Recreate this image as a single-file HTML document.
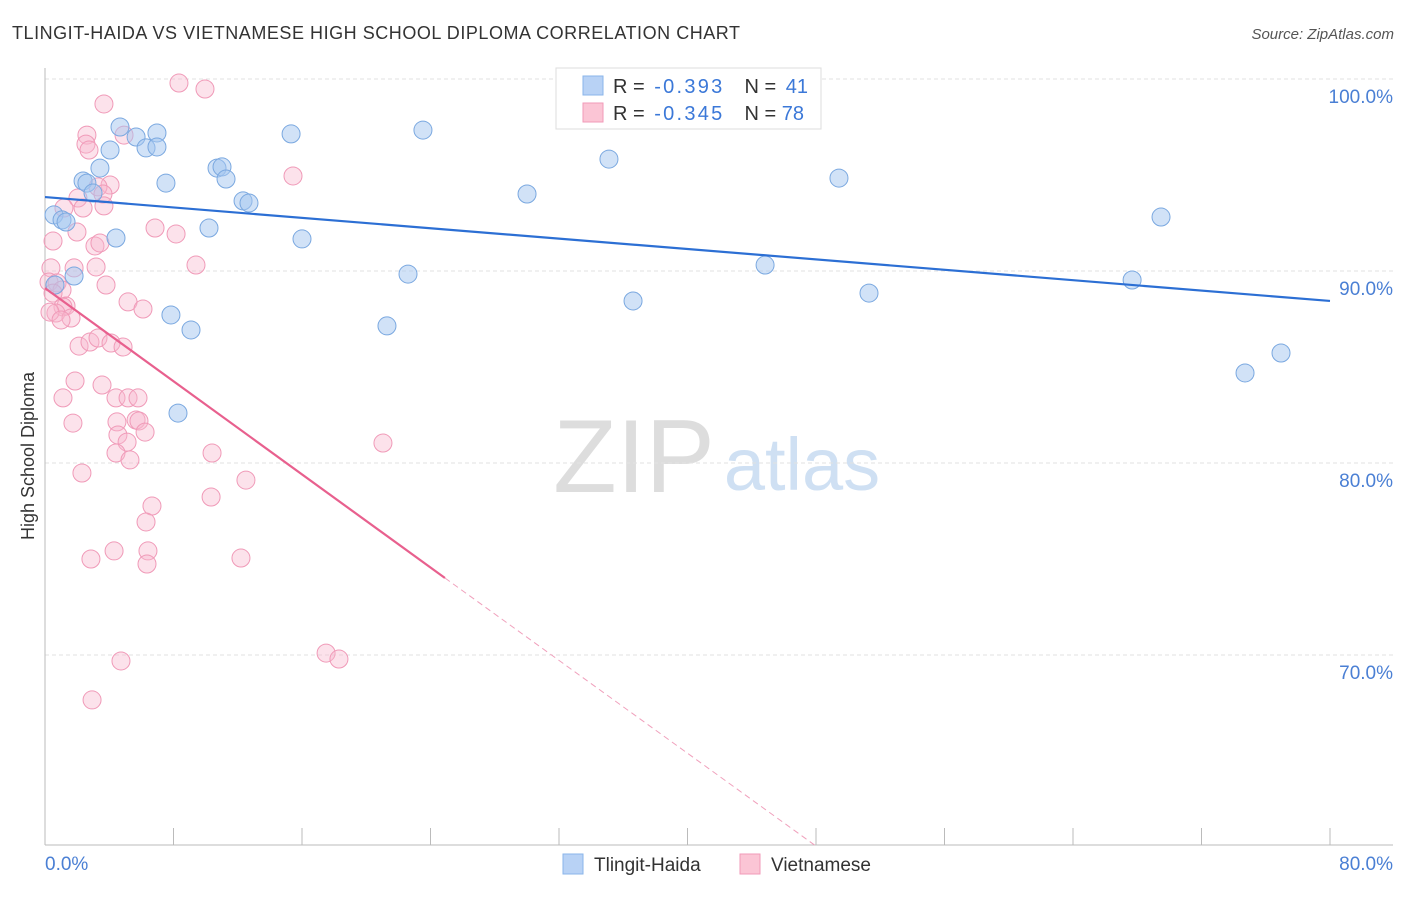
<!DOCTYPE html>
<html><head><meta charset="utf-8"><style>
body{margin:0;background:#fff;font-family:"Liberation Sans",sans-serif;}
svg text{font-family:"Liberation Sans",sans-serif;}
</style></head><body>
<svg id="chart" width="1406" height="892" xmlns="http://www.w3.org/2000/svg">
<text x="12" y="39" font-size="18" fill="#333" textLength="728">TLINGIT-HAIDA VS VIETNAMESE HIGH SCHOOL DIPLOMA CORRELATION CHART</text>
<text x="1394" y="39" font-size="15" fill="#555" text-anchor="end" font-style="italic">Source: ZipAtlas.com</text>
<text x="34" y="456" font-size="18" fill="#333" text-anchor="middle" transform="rotate(-90 34 456)">High School Diploma</text>
<g><text x="634" y="492" font-size="104" fill="#ddd" text-anchor="middle" font-family="Liberation Serif">ZIP</text><text x="802" y="490" font-size="74" fill="#cfe0f3" text-anchor="middle">atlas</text></g>
<g id="grid"></g><g id="axes"></g><g id="marks"></g>
<g>
<rect x="556" y="68" width="265" height="61" fill="#fff" stroke="#ddd"/>
<rect x="583" y="76" width="20" height="19" fill="#b8d2f5" stroke="#8ab4ea"/>
<rect x="583" y="103" width="20" height="19" fill="#fbc5d5" stroke="#f29ab8"/>
<text x="613" y="93" font-size="20" fill="#333">R = <tspan dx="4" fill="#3b78d8" textLength="68">-0.393</tspan><tspan dx="20">N = </tspan><tspan dx="4" fill="#3b78d8">41</tspan></text>
<text x="613" y="120" font-size="20" fill="#333">R = <tspan dx="4" fill="#3b78d8" textLength="68">-0.345</tspan><tspan dx="20">N = </tspan><tspan fill="#3b78d8">78</tspan></text>
</g>
<g>
<rect x="563" y="854" width="20" height="20" fill="#b8d2f5" stroke="#8ab4ea"/>
<text x="594" y="871" font-size="19" fill="#333">Tlingit-Haida</text>
<rect x="740" y="854" width="20" height="20" fill="#fbc5d5" stroke="#f29ab8"/>
<text x="771" y="871" font-size="19" fill="#333">Vietnamese</text>
</g>
</svg>
<script>
const blueX=[4.67,4.05,5.67,6.29,6.97,6.97,3.42,2.37,2.61,2.99,7.53,0.56,1.06,1.31,4.42,1.81,0.62,10.71,11.02,11.27,12.33,12.70,10.21,15.32,16.0,7.84,9.09,8.28,21.29,22.6,23.53,30.01,35.11,36.61,44.83,49.43,51.30,69.48,67.68,74.71,76.95];
const blueY=[97.5,96.3,96.98,96.41,97.19,96.46,95.36,94.69,94.58,94.06,94.58,92.92,92.66,92.55,91.72,89.74,89.27,95.36,95.42,94.79,93.65,93.54,92.24,97.14,91.67,87.71,86.93,82.6,87.14,89.84,97.34,94.01,95.83,88.44,90.31,94.84,88.85,92.81,89.53,84.69,85.73];
const pinkX=[8.34,9.96,3.67,2.61,2.55,2.74,4.92,4.05,3.30,3.61,2.05,3.67,2.37,1.18,6.85,8.16,1.99,0.50,3.11,3.42,9.40,3.18,1.81,0.37,3.80,15.44,0.25,0.75,1.06,0.50,1.31,1.12,0.68,0.31,1.62,1.00,5.17,6.10,2.12,2.80,3.30,4.11,4.86,1.87,3.55,1.12,4.42,5.17,5.79,1.74,4.48,5.67,5.85,6.23,4.54,5.11,4.42,5.29,10.40,21.04,2.30,12.51,10.34,6.66,6.29,2.86,4.30,6.41,6.35,12.20,4.73,17.50,18.30,2.93];
const pinkY=[99.79,99.48,98.7,97.08,96.61,96.3,97.08,94.48,94.38,94.01,93.8,93.39,93.28,93.28,92.24,91.93,92.03,91.56,91.3,91.46,90.31,90.21,90.16,90.16,89.27,94.95,89.43,89.38,89.01,88.85,88.18,88.13,87.81,87.86,87.55,87.45,88.39,88.02,86.09,86.3,86.51,86.25,86.04,84.27,84.06,83.39,83.39,83.39,83.39,82.08,82.14,82.24,82.19,81.61,81.46,81.09,80.52,80.16,80.52,81.04,79.48,79.11,78.23,77.76,76.93,75.0,75.42,75.42,74.74,75.05,69.69,70.1,69.79,67.66];
const yTicks=[100,90,80,70];
const yTickLabels=["100.0%","90.0%","80.0%","70.0%"];
const xTicks=[0,8,16,24,32,40,48,56,64,72,80];
const blueLine=[[0,93.85],[80,88.44]];
const pinkSolid=[[0,89.11],[24.9,74.01]];
const pinkDash=[[24.9,74.01],[48.08,60.0]];

const NS="http://www.w3.org/2000/svg";
const sx=v=>45+v*1285/80;
const sy=v=>271-(v-90)*19.2;
function mk(tag,attrs,parent){const e=document.createElementNS(NS,tag);for(const k in attrs)e.setAttribute(k,attrs[k]);document.getElementById(parent).appendChild(e);return e;}
yTicks.forEach((t,i)=>{
  const g=mk('line',{x1:45,x2:1393,y1:sy(t),y2:sy(t),stroke:'#e2e2e2','stroke-dasharray':'4,3'},'grid');
  
  
  const l=mk('text',{x:1393,y:sy(t)+24,'font-size':19,fill:'#4a7fd4','text-anchor':'end'},'axes');
  l.textContent=yTickLabels[i];
  
  
});
const ya=mk('line',{x1:45,x2:45,y1:68,y2:845,stroke:'#bbb'},'axes');


const xa=mk('line',{x1:45,x2:1393,y1:845,y2:845,stroke:'#bbb'},'axes');


xTicks.forEach(t=>{
  const e=mk('line',{x1:sx(t),x2:sx(t),y1:828,y2:845,stroke:'#bbb'},'axes');
  
  
});
const xl0=mk('text',{x:45,y:870,'font-size':19,fill:'#4a7fd4'},'axes');xl0.textContent='0.0%';


const xl1=mk('text',{x:1393,y:870,'font-size':19,fill:'#4a7fd4','text-anchor':'end'},'axes');xl1.textContent='80.0%';


pinkX.forEach((x,i)=>{
  const c=mk('circle',{cx:sx(x),cy:sy(pinkY[i]),r:9,fill:'rgba(248,182,204,0.4)',stroke:'#f09ab8','stroke-width':1},'marks');
  
  
});
blueX.forEach((x,i)=>{
  const c=mk('circle',{cx:sx(x),cy:sy(blueY[i]),r:9,fill:'rgba(164,198,240,0.5)',stroke:'#7aa8e0','stroke-width':1},'marks');
  
  
});
const bl=mk('line',{x1:sx(blueLine[0][0]),y1:sy(blueLine[0][1]),x2:sx(blueLine[1][0]),y2:sy(blueLine[1][1]),stroke:'#2c6fd4','stroke-width':2.2},'marks');


const pl=mk('line',{x1:sx(pinkSolid[0][0]),y1:sy(pinkSolid[0][1]),x2:sx(pinkSolid[1][0]),y2:sy(pinkSolid[1][1]),stroke:'#e8608e','stroke-width':2.2},'marks');


const pd=mk('line',{x1:sx(pinkDash[0][0]),y1:sy(pinkDash[0][1]),x2:sx(pinkDash[1][0]),y2:sy(pinkDash[1][1]),stroke:'#f0a0bc','stroke-width':1,'stroke-dasharray':'6,4'},'marks');


</script>
</body></html>
